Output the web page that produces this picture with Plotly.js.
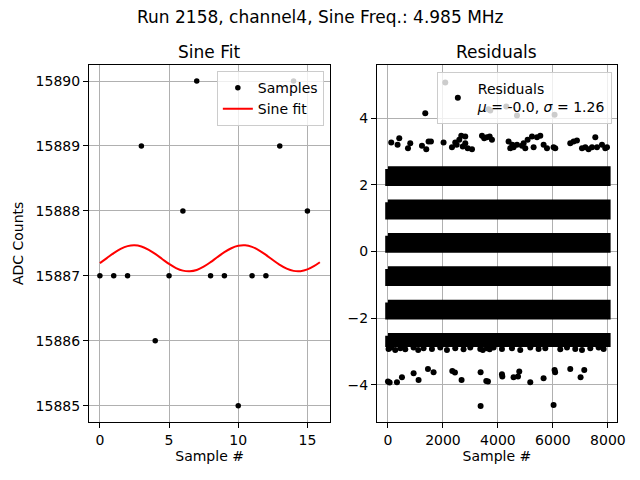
<!DOCTYPE html>
<html>
<head>
<meta charset="utf-8">
<script src="https://cdn.plot.ly/plotly-3.0.1.min.js"></script>
<style>
  html, body { margin: 0; padding: 0; background: #fff; }
  #chart { width: 640px; height: 480px; }
</style>
</head>
<body>
<div id="chart"></div>
<script>
// left panel: raw samples and the fitted sine
const sampleIdx = [0, 1, 2, 3, 4, 5, 6, 7, 8, 9, 10, 11, 12, 13, 14, 15];
const sampleAdc = [15887, 15887, 15887, 15889, 15886, 15887, 15888, 15890,
                   15887, 15887, 15885, 15887, 15887, 15889, 15890, 15888];

const fitX = [0, 0.5, 1, 1.5, 2, 2.5, 3, 3.5, 4, 4.5, 5, 5.5, 6, 6.5, 7, 7.5,
              8, 8.5, 9, 9.5, 10, 10.5, 11, 11.5, 12, 12.5, 13, 13.5, 14, 14.5, 15, 15.5, 15.9];
const fitY = [15887.195, 15887.272, 15887.35, 15887.414, 15887.457, 15887.47, 15887.452, 15887.405,
              15887.338, 15887.26, 15887.183, 15887.12, 15887.08, 15887.07, 15887.09, 15887.14,
              15887.21, 15887.29, 15887.364, 15887.425, 15887.462, 15887.469, 15887.445, 15887.393,
              15887.323, 15887.244, 15887.17, 15887.11, 15887.076, 15887.072, 15887.099, 15887.153, 15887.209];

// right panel: residual bands that are too dense to resolve single points
const bandFirst = 0;
const bandLast = 7999;
const bandTop    = [2.475, 1.475, 0.475, -0.525, -1.525, -2.525];
const bandBottom = [2.045, 1.045, 0.045, -0.955, -1.955, -2.78];

// sparse residuals above the dense bands
const upperX = [120, 350, 411, 728, 811, 1237, 1393, 1477, 1564, 2023, 2328, 2448, 2500, 2594, 2667,
                2720, 2812, 2812, 2900, 3056, 3420, 3500, 3601, 3700, 3783, 4388, 4450, 4520, 4570,
                4693, 4875, 4935, 4995, 5080, 5239, 5298, 5421, 5541, 5662, 5784, 6025, 6086, 6632,
                6753, 6875, 7058, 7178, 7298, 7421, 7542, 7603, 7785, 7905, 7967,
                1357, 2085, 3660, 3722, 4304, 4693, 6061];
const upperY = [3.27, 3.2, 3.4, 3.1, 3.25, 3.17, 3.07, 3.3, 3.3, 3.27, 3.13, 3.27, 3.2, 3.35, 3.47,
                3.15, 3.45, 3.25, 3.1, 3.07, 3.47, 3.4, 3.43, 3.45, 3.35, 3.3, 3.1, 3.2, 3.13,
                3.2, 3.17, 3.25, 3.1, 3.35, 3.45, 3.13, 3.43, 3.47, 3.2, 3.1, 3.13, 3.1, 3.25,
                3.3, 3.33, 3.1, 3.13, 3.07, 3.13, 3.43, 3.13, 3.2, 3.1, 3.13,
                4.15, 5.07, 4.27, 4.23, 4.35, 4.08, 4.1];

// sparse residuals below the dense bands
const lowerX = [22, 120, 265, 450, 630, 931, 1100, 1295, 1600, 1903, 2146, 2448, 2750, 2994, 3358,
                3450, 3601, 3700, 3843, 4147, 4511, 4813, 5177, 5479, 5723, 6268, 6512, 6814, 7058,
                7360, 7662, 7844,
                0, 60, 327, 509, 933, 1114, 1455, 1660, 2340, 2437, 2678, 3370, 3576, 3638, 4147,
                4160, 4569, 4730, 4777, 5177, 5661, 6061, 6080, 6632, 7007, 7141,
                3370, 6025];
const lowerY = [-2.92, -2.88, -2.95, -2.9, -2.93, -2.88, -2.95, -2.9, -2.92, -2.88, -2.95, -2.9,
                -2.93, -2.88, -2.92, -2.95, -2.9, -2.93, -2.88, -2.92, -2.9, -2.95, -2.88, -2.92,
                -2.9, -2.93, -2.88, -2.92, -2.95, -2.9, -2.88, -2.92,
                -3.9, -3.93, -3.92, -3.77, -3.65, -3.85, -3.52, -3.62, -3.58, -3.63, -3.85, -3.62,
                -3.88, -3.9, -3.68, -3.75, -3.77, -3.75, -3.6, -3.92, -3.8, -3.55, -3.62, -3.52,
                -3.77, -3.55,
                -4.63, -4.6];

const FONT = 'DejaVu Sans, Liberation Sans, sans-serif';

const traces = [
    {
        x: sampleIdx, y: sampleAdc, type: 'scatter', mode: 'markers', name: 'Samples',
        marker: { color: 'black', size: 5.5 }, xaxis: 'x', yaxis: 'y', legend: 'legend'
    },
    {
        x: fitX, y: fitY, type: 'scatter', mode: 'lines', name: 'Sine fit',
        line: { color: 'red', width: 2, shape: 'spline' }, xaxis: 'x', yaxis: 'y', legend: 'legend'
    }
];

bandTop.forEach((top, i) => {
    traces.push({
        x: [bandFirst, bandLast, bandLast, bandFirst, bandFirst],
        y: [top, top, bandBottom[i], bandBottom[i], top],
        type: 'scatter', mode: 'lines', fill: 'toself', fillcolor: 'black',
        line: { color: 'black', width: 5.5 }, hoverinfo: 'skip', showlegend: false,
        xaxis: 'x2', yaxis: 'y2'
    });
});

traces.push({
    x: lowerX, y: lowerY, type: 'scatter', mode: 'markers', showlegend: false,
    marker: { color: 'black', size: 6 }, xaxis: 'x2', yaxis: 'y2'
});
traces.push({
    x: upperX, y: upperY, type: 'scatter', mode: 'markers',
    name: 'Residuals<br><i>μ</i> = -0.0, <i>σ</i> = 1.26',
    marker: { color: 'black', size: 6 }, xaxis: 'x2', yaxis: 'y2', legend: 'legend2'
});

const axisBase = {
    showline: true, mirror: true, linecolor: 'black', linewidth: 1,
    ticks: 'outside', ticklen: 5, tickwidth: 1, tickcolor: 'black',
    showgrid: true, gridcolor: '#b0b0b0', gridwidth: 1, zeroline: false, automargin: false,
    tickfont: { family: FONT, size: 14, color: 'black' }
};

const legendBase = {
    xanchor: 'right', yanchor: 'top',
    bgcolor: 'rgba(255,255,255,0.8)', bordercolor: '#cccccc', borderwidth: 1,
    font: { family: FONT, size: 14, color: 'black' }
};

const layout = {
    width: 640, height: 480,
    margin: { l: 0, r: 0, t: 0, b: 0 },
    paper_bgcolor: 'white', plot_bgcolor: 'white',
    font: { family: FONT, color: 'black' },
    xaxis: Object.assign({}, axisBase, {
        domain: [0.139, 0.516], range: [-0.79, 16.65], tickvals: [0, 5, 10, 15],
        anchor: 'y', title: { text: 'Sample #', standoff: 4, font: { family: FONT, size: 14 } }
    }),
    yaxis: Object.assign({}, axisBase, {
        domain: [0.121, 0.865], range: [15884.75, 15890.25], dtick: 1, tickformat: 'd',
        anchor: 'x', title: { text: 'ADC Counts', standoff: 8, font: { family: FONT, size: 14 } }
    }),
    xaxis2: Object.assign({}, axisBase, {
        domain: [0.589, 0.964], range: [-400, 8330], tickvals: [0, 2000, 4000, 6000, 8000],
        tickformat: 'd', anchor: 'y2',
        title: { text: 'Sample #', standoff: 4, font: { family: FONT, size: 14 } }
    }),
    yaxis2: Object.assign({}, axisBase, {
        domain: [0.121, 0.865], range: [-5.11, 5.6], tickvals: [-4, -2, 0, 2, 4], anchor: 'x2'
    }),
    legend: Object.assign({}, legendBase, { x: 0.506, y: 0.852 }),
    legend2: Object.assign({}, legendBase, { x: 0.956, y: 0.85 }),
    annotations: [
        { text: 'Run 2158, channel4, Sine Freq.: 4.985 MHz', xref: 'paper', yref: 'paper',
          x: 0.5, y: 0.965, xanchor: 'center', yanchor: 'middle', showarrow: false,
          font: { family: FONT, size: 17 } },
        { text: 'Sine Fit', xref: 'paper', yref: 'paper', x: 0.327, y: 0.892,
          xanchor: 'center', yanchor: 'middle', showarrow: false, font: { family: FONT, size: 17 } },
        { text: 'Residuals', xref: 'paper', yref: 'paper', x: 0.776, y: 0.892,
          xanchor: 'center', yanchor: 'middle', showarrow: false, font: { family: FONT, size: 17 } }
    ]
};

Plotly.newPlot('chart', traces, layout, { displayModeBar: false, staticPlot: true });
</script>
</body>
</html>
